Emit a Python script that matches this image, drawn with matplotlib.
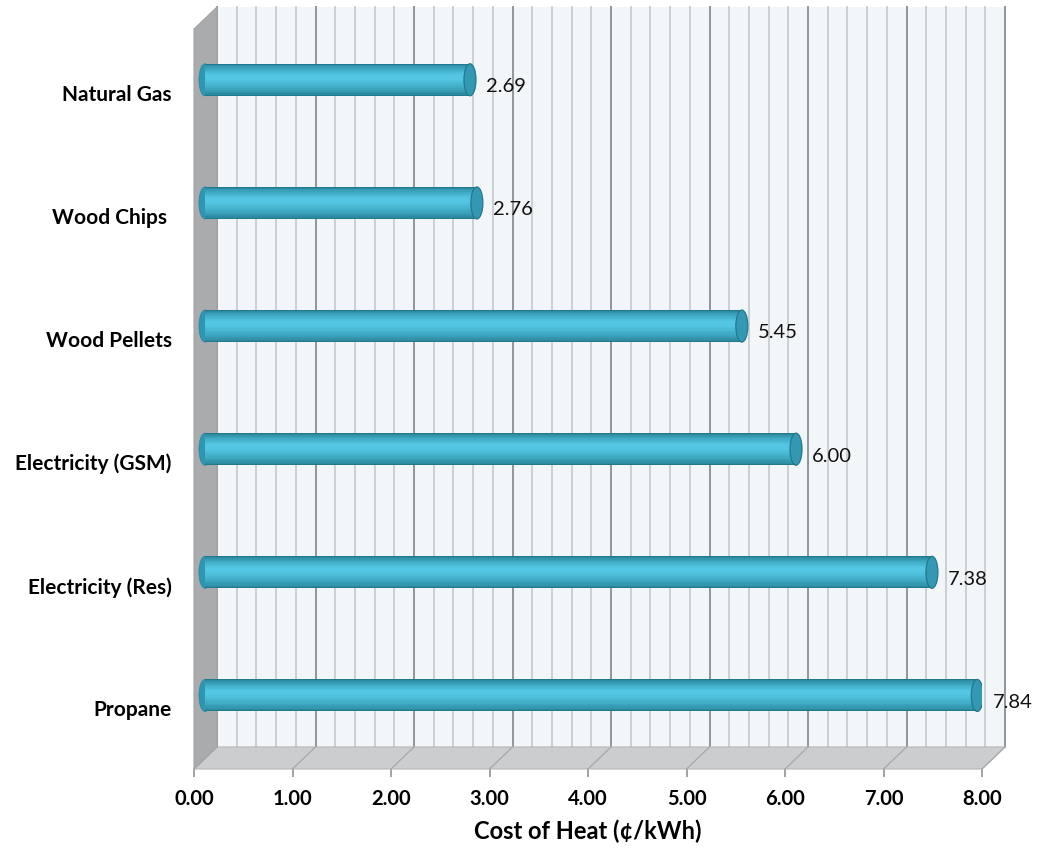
import matplotlib
matplotlib.use("Agg")
import matplotlib.pyplot as plt
from matplotlib.patches import Rectangle, Polygon, Ellipse
from matplotlib.colors import to_rgb
import numpy as np

fuels = ["Propane", "Electricity (Res)", "Electricity (GSM)",
         "Wood Pellets", "Wood Chips", "Natural Gas"]
fuel_labels = ["Propane", "Electricity (Res)", "Electricity (GSM)",
               "Wood Pellets", "Wood Chips ", "Natural Gas"]
cost = [7.84, 7.38, 6.00, 5.45, 2.76, 2.69]
x_ticks = [0, 1, 2, 3, 4, 5, 6, 7, 8]

plt.rcParams['font.family'] = ['Lato', 'DejaVu Sans']

W, H = 1037, 854
fig = plt.figure(figsize=(W / 100, H / 100), dpi=100)
ax_l, ax_r, ax_top, ax_bot = 194, 982, 30, 770
ax = fig.add_axes([ax_l / W, (H - ax_bot) / H, (ax_r - ax_l) / W, (ax_bot - ax_top) / H])
ax.set_xlim(0, 8)
ax.set_ylim(-0.5, 5.51)

# pixels -> data units (fixed layout)
px_x = 8 / (ax_r - ax_l)
px_y = 6.01 / (ax_bot - ax_top)
dx, dy = 23 * px_x, 22 * px_y          # depth of the back wall
mx, my = 11 * px_x, 12 * px_y          # bars sit half way back
y0, y1 = -0.5, 5.51

# back wall
ax.add_patch(Rectangle((dx, y0 + dy), 8, y1 - y0, facecolor="#f2f6f8",
                       edgecolor="none", zorder=0, clip_on=False))
for gx in np.arange(0, 8.001, 0.2):
    major = abs(gx - round(gx)) < 1e-6
    ax.plot([gx + dx, gx + dx], [y0 + dy, y1 + dy], clip_on=False, zorder=1,
            color="#8f979c" if major else "#c6cdd1", lw=1.4 if major else 1.3)

# floor and left wall
ax.add_patch(Polygon([(0, y0), (8, y0), (8 + dx, y0 + dy), (dx, y0 + dy)],
                     closed=True, facecolor="#cbcdcf", edgecolor="#b4b6b8",
                     lw=0.8, zorder=2, clip_on=False))
for t in x_ticks:
    ax.plot([t, t + dx], [y0, y0 + dy], color="#a6a9ac", lw=0.9, zorder=2, clip_on=False)
ax.add_patch(Polygon([(0, y0), (0, y1), (dx, y1 + dy), (dx, y0 + dy)],
                     closed=True, facecolor="#a9abad", edgecolor="#a2a4a6",
                     lw=0.8, zorder=2, clip_on=False))

# cylinder bars: stacked bands from dark rim to bright core
h = 32 * px_y
cap_w = 12 * px_x
dark, light = np.array(to_rgb("#21798f")), np.array(to_rgb("#52c6e2"))
n_band = 14
for i, v in enumerate(cost):
    yc = i + my
    ax.add_patch(Ellipse((mx, yc), cap_w, h, facecolor="#2f96b1",
                         edgecolor="#2a8aa3", lw=0.6, zorder=3))
    for k in range(n_band):
        t = k / (n_band - 1)
        frac = 1.0 - 0.85 * t
        col = dark + (light - dark) * (t ** 0.6)
        ax.barh(yc + 0.08 * t * h, v, height=frac * h, left=mx, color=col,
                zorder=4, linewidth=0)
    ax.add_patch(Ellipse((v + mx, yc), cap_w, h, facecolor="#3598b2",
                         edgecolor="#22798f", lw=0.9, zorder=5))
    ax.text(v + mx + cap_w / 2 + 10 * px_x, i + 0.05, f"{v:.2f}",
            ha="left", va="center", fontsize=14.5, color="#111111", zorder=6)

ax.set_yticks(range(len(fuels)))
ax.set_yticklabels(fuel_labels, fontsize=15, fontweight="bold")
ax.set_xticks(x_ticks)
ax.set_xticklabels([f"{t:.2f}" for t in x_ticks], fontsize=14.5, fontweight="bold")
ax.tick_params(axis="y", length=0, pad=16)
ax.tick_params(axis="x", length=6, width=1.2, color="#909294", pad=8)
ax.set_xlabel("Cost of Heat (¢/kWh)", fontsize=17, fontweight="bold", labelpad=7)
for s in ax.spines.values():
    s.set_visible(False)
ax.patch.set_visible(False)

fig.savefig("out.png", dpi=100)
